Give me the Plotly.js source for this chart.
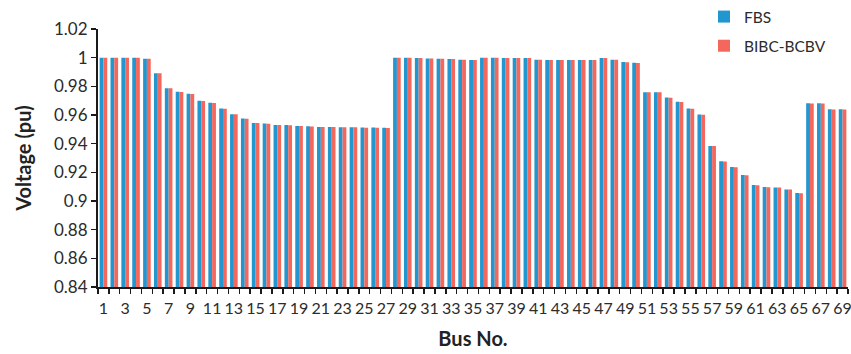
<!DOCTYPE html>
<html>
<head>
<meta charset="utf-8">
<script src="https://cdn.plot.ly/plotly-3.0.1.min.js"></script>
<style>html,body{margin:0;padding:0;background:#fff;}#chart{width:851px;height:354px;}</style>
</head>
<body>
<div id="chart"></div>
<script>
const buses = Array.from({length: 69}, (_, i) => i + 1);
const tickLabels = [1,3,5,7,9,11,13,15,17,19,21,23,25,27,29,31,33,35,37,39,41,43,45,47,49,51,53,55,57,59,61,63,65,67,69];

const fbs = [
  1.0000, 1.0000, 1.0000, 1.0000, 0.9992, 0.9892, 0.9787, 0.9762, 0.9748, 0.9699,
  0.9685, 0.9645, 0.9606, 0.9575, 0.9545, 0.9540, 0.9531, 0.9530, 0.9524, 0.9521,
  0.9517, 0.9517, 0.9515, 0.9515, 0.9512, 0.9512, 0.9511, 1.0000, 1.0000, 0.9997,
  0.9995, 0.9993, 0.9990, 0.9986, 0.9983, 1.0000, 0.9999, 0.9997, 0.9997, 0.9997,
  0.9986, 0.9983, 0.9983, 0.9983, 0.9983, 0.9983, 0.9998, 0.9986, 0.9969, 0.9964,
  0.9759, 0.9759, 0.9722, 0.9692, 0.9645, 0.9603, 0.9384, 0.9277, 0.9237, 0.9181,
  0.9111, 0.9097, 0.9095, 0.9081, 0.9055, 0.9682, 0.9682, 0.9640, 0.9640
];
const bibc = [
  1.0000, 1.0000, 1.0000, 1.0000, 0.9992, 0.9891, 0.9786, 0.9761, 0.9747, 0.9698,
  0.9684, 0.9644, 0.9605, 0.9574, 0.9544, 0.9539, 0.9530, 0.9529, 0.9523, 0.9520,
  0.9516, 0.9516, 0.9514, 0.9514, 0.9511, 0.9511, 0.9510, 1.0000, 1.0000, 0.9997,
  0.9995, 0.9993, 0.9990, 0.9986, 0.9983, 1.0000, 0.9999, 0.9997, 0.9997, 0.9997,
  0.9986, 0.9983, 0.9983, 0.9983, 0.9983, 0.9983, 0.9998, 0.9986, 0.9968, 0.9963,
  0.9758, 0.9758, 0.9721, 0.9691, 0.9644, 0.9602, 0.9383, 0.9276, 0.9236, 0.9180,
  0.9110, 0.9096, 0.9094, 0.9080, 0.9054, 0.9681, 0.9681, 0.9639, 0.9639
];

const font = "Lato, 'Open Sans', sans-serif";
const blue = '#2196CF';
const red = '#F4675D';

const traces = [
  {type: 'bar', name: 'FBS', x: buses, y: fbs, legendgroup: 'a',
   marker: {color: blue, line: {width: 0}}},
  {type: 'bar', name: 'BIBC-BCBV', x: buses, y: bibc, legendgroup: 'b',
   marker: {color: red, line: {width: 0}}}
];

const layout = {
  width: 851, height: 354,
  margin: {l: 98, r: 3, t: 29, b: 67, autoexpand: false},
  paper_bgcolor: '#fff', plot_bgcolor: '#fff',
  font: {family: font, color: '#2b2b2b', size: 15},
  barmode: 'group', bargap: 0.3, bargroupgap: 0,
  showlegend: true,
  legend: {
    xref: 'container', yref: 'container',
    x: 704 / 851, y: 1 - 0 / 354, xanchor: 'left', yanchor: 'top',
    bgcolor: 'rgba(0,0,0,0)', font: {family: font, size: 15.5, color: '#2b2b2b'},
    traceorder: 'grouped', tracegroupgap: 6
  },
  xaxis: {
    type: 'linear', range: [0.5, 69.5], fixedrange: true,
    tickmode: 'array', tickvals: tickLabels, ticktext: tickLabels.map(String),
    ticks: '', tickangle: 0, ticklabelstandoff: 6, ticklabeloverflow: 'allow',
    tickfont: {family: font, size: 16, color: '#2b2b2b'},
    showgrid: false, zeroline: false,
    showline: true, linecolor: '#1a1a1a', linewidth: 2,
    minor: {tickmode: 'linear', tick0: 0.5, dtick: 1, ticks: 'outside', ticklen: 5, tickwidth: 1.5, tickcolor: '#1a1a1a', showgrid: false},
    title: {text: '<b>Bus No.</b>', font: {family: font, size: 20, color: '#222'}, standoff: 16}
  },
  yaxis: {
    range: [0.84, 1.02], fixedrange: true,
    tickmode: 'array',
    tickvals: [0.84, 0.86, 0.88, 0.9, 0.92, 0.94, 0.96, 0.98, 1.0, 1.02],
    ticktext: ['0.84', '0.86', '0.88', '0.9', '0.92', '0.94', '0.96', '0.98', '1', '1.02'],
    ticks: 'outside', ticklen: 5, tickwidth: 1.5, tickcolor: '#1a1a1a',
    tickfont: {family: font, size: 17, color: '#2b2b2b'},
    showgrid: false, zeroline: false,
    showline: true, linecolor: '#1a1a1a', linewidth: 2,
    title: {text: '<b>Voltage (pu)</b>', font: {family: font, size: 20, color: '#222'}, standoff: 17}
  }
};

Plotly.newPlot('chart', traces, layout, {staticPlot: true, displayModeBar: false});
</script>
</body>
</html>
